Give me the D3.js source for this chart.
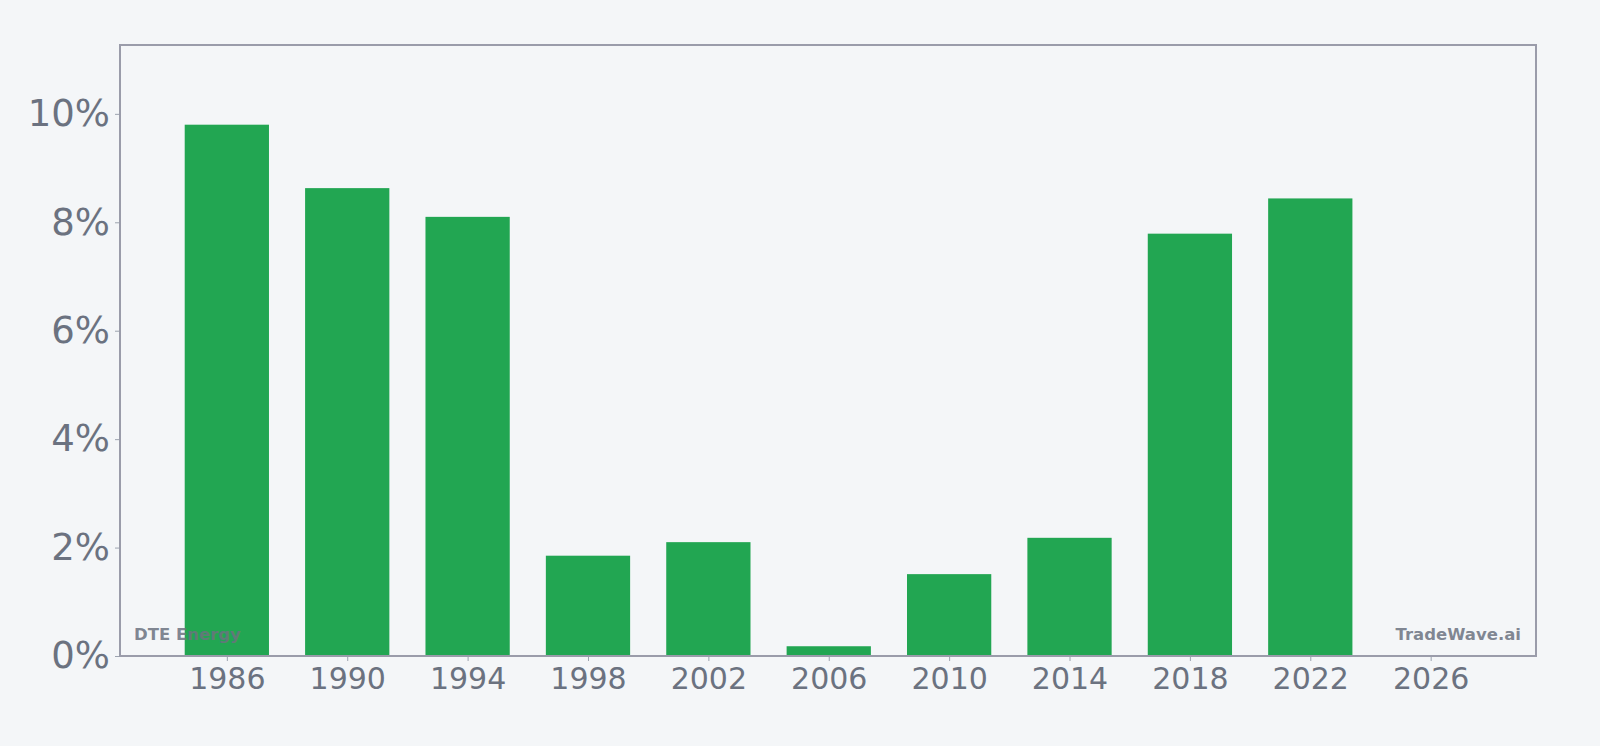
<!DOCTYPE html>
<html>
<head>
<meta charset="utf-8">
<script src="https://cdn.jsdelivr.net/npm/d3@7"></script>
<style>
  html, body { margin: 0; padding: 0; background: #f4f6f8; }
  svg { display: block; font-family: "DejaVu Sans", sans-serif; }
</style>
</head>
<body>
<div id="chart"></div>
<script>
// Daten
const years  = [1986, 1990, 1994, 1998, 2002, 2006, 2010, 2014, 2018, 2022];
const values = [9.80, 8.63, 8.10, 1.85, 2.10, 0.18, 1.51, 2.18, 7.79, 8.44];
const xTicks = [1986, 1990, 1994, 1998, 2002, 2006, 2010, 2014, 2018, 2022, 2026];
const yTicks = [0, 2, 4, 6, 8, 10];

// Layout
const W = 1600, H = 746;
const margin = { top: 45, right: 64, bottom: 90, left: 120 };
const width  = W - margin.left - margin.right;
const height = H - margin.top - margin.bottom;
const FONT = '"DejaVu Sans", sans-serif';

const svg = d3.select('#chart').append('svg')
  .attr('width', W).attr('height', H);

const g = svg.append('g')
  .attr('transform', `translate(${margin.left},${margin.top})`);

// Skalen
const x = d3.scaleLinear()
  .domain([1982.45, 2029.5])
  .range([0, width]);
const y = d3.scaleLinear()
  .domain([0, d3.max(values) * 1.15])
  .range([height, 0]);

const barW = (x(1990) - x(1986)) * 0.7;

// Balken
g.selectAll('rect.bar')
  .data(years)
  .enter().append('rect')
    .attr('class', 'bar')
    .attr('x', (d) => x(d) - barW / 2)
    .attr('y', (d, i) => y(values[i]))
    .attr('width', barW)
    .attr('height', (d, i) => y(0) - y(values[i]))
    .attr('fill', '#22a652');

// Achsen
const yAxis = g.append('g')
  .call(d3.axisLeft(y).tickValues(yTicks).tickSize(5).tickPadding(5)
    .tickFormat(d => d + '%'));
yAxis.attr('font-family', FONT);
yAxis.select('.domain').remove();
yAxis.selectAll('line').attr('stroke', '#9ca3af');
yAxis.selectAll('text')
  .attr('fill', '#6b7280')
  .style('font-family', FONT)
  .style('font-size', '37px');

const xAxis = g.append('g')
  .attr('transform', `translate(0,${height})`)
  .call(d3.axisBottom(x).tickValues(xTicks).tickSize(5).tickPadding(7)
    .tickFormat(d3.format('d')));
xAxis.attr('font-family', FONT);
xAxis.select('.domain').remove();
xAxis.selectAll('line').attr('stroke', '#9ca3af');
xAxis.selectAll('text')
  .attr('fill', '#6b7280')
  .style('font-family', FONT)
  .style('font-size', '30px');

// Rahmen
g.append('rect')
  .attr('x', 0).attr('y', 0)
  .attr('width', width).attr('height', height)
  .attr('fill', 'none')
  .attr('stroke', '#9a9caa')
  .attr('stroke-width', 2);

// Wasserzeichen
g.append('text')
  .attr('x', 14).attr('y', height - 16)
  .attr('fill', '#6b7280').attr('fill-opacity', 0.85)
  .style('font-size', '16.5px').style('font-weight', 'bold')
  .text('DTE Energy');

g.append('text')
  .attr('x', width - 15).attr('y', height - 16)
  .attr('text-anchor', 'end')
  .attr('fill', '#6b7280').attr('fill-opacity', 0.85)
  .style('font-size', '16.5px').style('font-weight', 'bold')
  .text('TradeWave.ai');
</script>
</body>
</html>
